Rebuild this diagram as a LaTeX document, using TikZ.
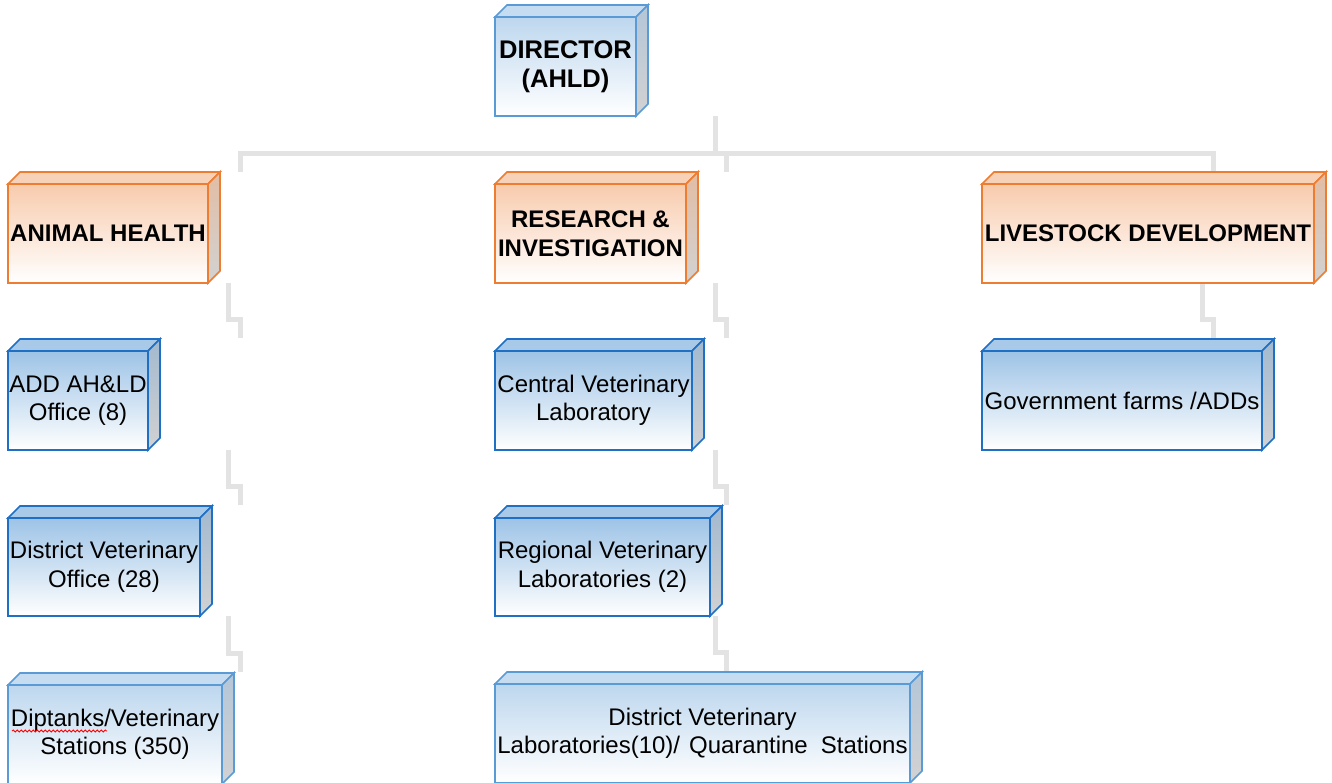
\documentclass[tikz,border=0pt]{standalone}
\usepackage{fontspec}
\setmainfont{Liberation Sans}
\usetikzlibrary{backgrounds,decorations.pathmorphing}

% palette
\definecolor{lbline}{HTML}{5B9BD5}
\definecolor{lbtop}{HTML}{BDD7EE}
\definecolor{lbcap}{HTML}{C6DCF0}
\definecolor{lbside}{HTML}{B4C6D8}
\definecolor{dbline}{HTML}{1F6FC5}
\definecolor{dbtop}{HTML}{9DC3E6}
\definecolor{dbcap}{HTML}{A8C9E8}
\definecolor{dbside}{HTML}{A2B9D0}
\definecolor{orline}{HTML}{ED7D31}
\definecolor{ortop}{HTML}{F8CBAD}
\definecolor{orcap}{HTML}{F8D2B8}
\definecolor{orside}{HTML}{E2BDA4}
\definecolor{sidelow}{HTML}{D2D2D2}
\definecolor{connector}{HTML}{E3E3E3}

\tikzset{
  x=1pt, y=-1pt,
  face/.style={line width=1.6pt, line join=miter},
  front/.style={face, inner sep=0pt, outer sep=0pt, align=center,
    font=\fontsize{24}{28.5}\selectfont, bottom color=white},
  lb front/.style={front, draw=lbline, top color=lbtop, bottom color=white},
  lb top/.style={face, draw=lbline, fill=lbcap},
  lb side/.style={face, draw=lbline, top color=lbside, bottom color=sidelow},
  db front/.style={front, draw=dbline, top color=dbtop, bottom color=white},
  db top/.style={face, draw=dbline, fill=dbcap},
  db side/.style={face, draw=dbline, top color=dbside, bottom color=sidelow},
  or front/.style={front, draw=orline, top color=ortop, bottom color=white},
  or top/.style={face, draw=orline, fill=orcap},
  or side/.style={face, draw=orline, top color=orside, bottom color=sidelow},
  conn/.style={draw=connector, line width=5pt, line join=miter},
  head/.style={font=\fontsize{24}{29}\selectfont\bfseries},
}

% 3-D box: name, colour kind, x1, y1, x2, y2 of the front face, text
\newcommand{\orgbox}[7]{%
  \node[#2 front, minimum width={#5-#3}, minimum height={#6-#4},
        anchor=north west] (#1) at (#3,#4) {#7};
  \draw[#2 top] (#1.north west) -- ++(12,-12)
     -- ([shift={(12pt,12pt)}]#1.north east) -- (#1.north east) -- cycle;
  \draw[#2 side] (#1.north east) -- ++(12,-12)
     -- ([shift={(12pt,12pt)}]#1.south east) -- (#1.south east) -- cycle;
}

% stepped connector: parent, child, upper x, lower x
\newcommand{\stepconn}[4]{%
  \draw[conn] (#3,0 |- #1.south) |- ([yshift=32pt]#4,0 |- #2.north)
     -- ([yshift=13pt]#4,0 |- #2.north);
}

\begin{document}
\begin{tikzpicture}
\useasboundingbox (0,0) rectangle (1332,782);

% top level
\orgbox{dir}{lb}{495}{17}{636}{116}{\fontsize{25.5}{30}\selectfont\bfseries DIRECTOR\\\fontsize{25.5}{30}\selectfont\bfseries (AHLD)}

% divisions
\orgbox{ah}{or}{8}{184}{208}{283}{\bfseries ANIMAL HEALTH}
\orgbox{ri}{or}{495}{184}{686}{283}{\fontsize{24}{29}\selectfont\bfseries RESEARCH \&\\\bfseries INVESTIGATION}
\orgbox{ld}{or}{982}{184}{1314}{283}{\bfseries LIVESTOCK DEVELOPMENT}

% animal health units
\orgbox{add}{db}{8}{351}{148}{450}{ADD AH\&LD\\Office (8)}
\orgbox{dvo}{db}{8}{518}{200}{616}{District Veterinary\\Office (28)}
\orgbox{dip}{lb}{8}{685}{222}{784}{Diptanks/Veterinary\\Stations (350)}

% research units
\orgbox{cvl}{db}{495}{351}{692}{450}{Central Veterinary\\Laboratory}
\orgbox{rvl}{db}{495}{518}{710}{616}{Regional Veterinary\\Laboratories (2)}
\orgbox{dvl}{lb}{495}{684}{910}{783}{District Veterinary\\Laboratories(10)/\hspace{9pt}Quarantine\hspace{13pt}Stations}

% livestock units
\orgbox{gf}{db}{982}{351}{1262}{450}{Government farms /ADDs}

% spelling mark under "Diptanks"
\draw[red, line width=0.8pt, decorate,
      decoration={snake, amplitude=1.1pt, segment length=4pt}]
  ([shift={(4pt,-46pt)}]dip.north west) -- ([shift={(99pt,-46pt)}]dip.north west);

\begin{scope}[on background layer]
  \fill[white] (0,0) rectangle (1332,782);
  % director to the divisions
  \draw[conn] (715,0 |- dir.south) -- (715,153);
  \draw[conn] ([yshift=12pt]240,0 |- ah.north) -- (240,153) -- (1213,153)
     -- ([yshift=12pt]1213,0 |- ld.north);
  \draw[conn] (726,153) -- ([yshift=12pt]726,0 |- ri.north);
  % within each division
  \stepconn{ah}{add}{228.5}{240}
  \stepconn{add}{dvo}{228.5}{240}
  \stepconn{dvo}{dip}{228.5}{240}
  \stepconn{ri}{cvl}{715}{726}
  \stepconn{cvl}{rvl}{715}{726}
  \stepconn{rvl}{dvl}{715}{726}
  \stepconn{ld}{gf}{1202}{1213}
\end{scope}
\end{tikzpicture}
\end{document}
